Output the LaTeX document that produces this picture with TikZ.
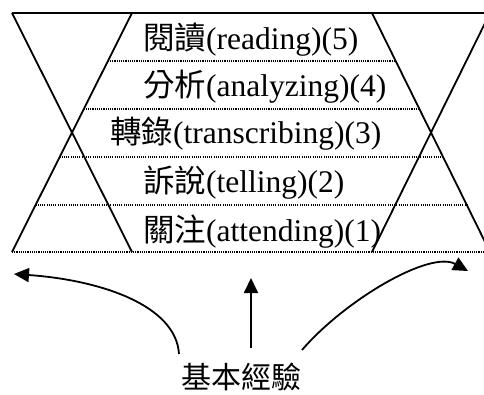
\documentclass[tikz,border=0pt]{standalone}
\usepackage{fontspec}
\setmainfont{Liberation Serif}
\newfontfamily\cjk{Noto Sans CJK TC}
\usetikzlibrary{arrows.meta}
\tikzset{
  solidline/.style={line width=1.8pt},
  topline/.style={line width=2.6pt},
  dotline/.style={line width=1.1pt, dash pattern=on 1.1pt off 1.1pt},
  rowtext/.style={anchor=base west, inner sep=0pt, font=\fontsize{31.5}{31.5}\selectfont},
  arr/.style={line width=1.8pt, -{Triangle[length=15pt,width=14pt]}},
}
\begin{document}
\begin{tikzpicture}[x=1pt,y=-1pt]
\useasboundingbox (0,0) rectangle (484,394);
\clip (0,0) rectangle (484,394);
\fill[white] (0,0) rectangle (484,394);
% hourglass corners
\coordinate (LTL) at (12,13);   \coordinate (LTR) at (132,13);
\coordinate (LBL) at (12,252);  \coordinate (LBR) at (132,252);
\coordinate (RTL) at (372,13);  \coordinate (RTR) at (490,13);
\coordinate (RBL) at (372,252); \coordinate (RBR) at (490,252);
% top line
\draw[topline] (LTL) -- (RTR);
% crosses
\draw[solidline] (LTL) -- (LBR);
\draw[solidline] (LTR) -- (LBL);
\draw[solidline] (RTL) -- (RBR);
\draw[solidline] (RTR) -- (RBL);
% dotted row separators
\coordinate (d1a) at (107.8,61);  \coordinate (d1b) at (395.8,61);
\coordinate (d2a) at (83.6,109);  \coordinate (d2b) at (419.6,109);
\coordinate (d3a) at (59.5,157);  \coordinate (d3b) at (443,157);
\coordinate (d4a) at (35.5,205);  \coordinate (d4b) at (467,205);
\coordinate (d5a) at (12,252);    \coordinate (d5b) at (490,252);
\draw[dotline] (d1a) -- (d1b);
\draw[dotline] (d2a) -- (d2b);
\draw[dotline] (d3a) -- (d3b);
\draw[dotline] (d4a) -- (d4b);
\draw[dotline] (d5a) -- (d5b);
% row texts
\node[rowtext] (t5) at (143,49)  {{\cjk 閱讀}(reading)(5)};
\node[rowtext] (t4) at (143,96)  {{\cjk 分析}(analyzing)(4)};
\node[rowtext] (t3) at (110,143) {{\cjk 轉錄}(transcribing)(3)};
\node[rowtext] (t2) at (143,192) {{\cjk 訴說}(telling)(2)};
\node[rowtext] (t1) at (143,241) {{\cjk 關注}(attending)(1)};
% base label
\node[inner sep=0pt, font=\fontsize{30}{30}\selectfont\cjk] (base) at (241,377) {基本經驗};
% arrows
\coordinate (a1s) at (179,354); \coordinate (a1e) at (14,274);
\coordinate (a2s) at (251,348); \coordinate (a2e) at (251,278);
\coordinate (a3s) at (302,350); \coordinate (a3e) at (468,271);
\draw[arr] (a1s) .. controls (176,305) and (100,280) .. (a1e);
\draw[arr] (a2s) -- (a2e);
\draw[arr] (a3s) .. controls (345,300) and (430,250) .. (a3e);
\end{tikzpicture}
\end{document}
